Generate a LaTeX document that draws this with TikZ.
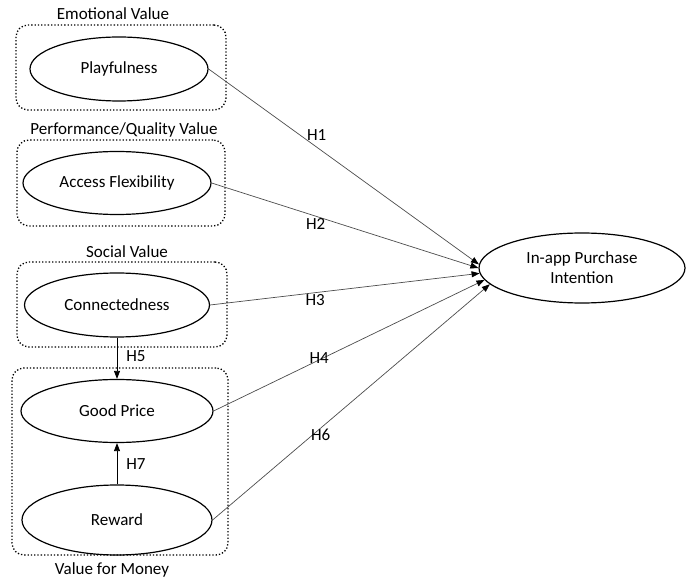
\documentclass[tikz,border=0pt]{standalone}
\usepackage{fontspec}
\setmainfont{Carlito}
\usetikzlibrary{arrows.meta,positioning,shapes.geometric}

\begin{document}
\begin{tikzpicture}[
  x=1pt, y=-1pt,
  construct/.style={draw, ellipse, line width=1.2pt, inner sep=0pt, font=\fontsize{17}{20}\selectfont},
  groupbox/.style={draw, dotted, line width=1.3pt, rounded corners=12pt, inner sep=0pt},
  grouplabel/.style={font=\fontsize{17}{20}\selectfont},
  hyp/.style={draw=gray!60!black, line width=0.7pt, -{Triangle[length=8pt,width=6pt,color=black]}},
  hypv/.style={draw=black, line width=0.8pt, -{Triangle[length=8pt,width=6pt]}},
  hlabel/.style={font=\fontsize{17}{20}\selectfont, inner sep=1pt},
]
\useasboundingbox (0,0) rectangle (686,585);

% value groups
\node[groupbox, minimum width=210pt, minimum height=85pt] (emobox) at (121,67.5) {};
\node[grouplabel] (emotitle) at (113,14) {Emotional Value};
\node[groupbox, minimum width=208pt, minimum height=86pt] (perfbox) at (121,183) {};
\node[grouplabel] (perftitle) at (124,130) {Performance/Quality Value};
\node[groupbox, minimum width=210pt, minimum height=85pt] (socbox) at (122,304.5) {};
\node[grouplabel] (soctitle) at (127,252) {Social Value};
\node[groupbox, minimum width=216pt, minimum height=187pt] (vfmbox) at (120,461.5) {};
\node[grouplabel] (vfmtitle) at (112,570) {Value for Money};

% constructs
\node[construct, minimum width=178pt, minimum height=64pt] (play) at (119,69) {Playfulness};
\node[construct, minimum width=188pt, minimum height=63pt] (access) at (117,183) {Access Flexibility};
\node[construct, minimum width=185pt, minimum height=64pt] (conn) at (117,305) {Connectedness};
\node[construct, minimum width=192pt, minimum height=63pt] (price) at (117,411) {Good Price};
\node[construct, minimum width=190pt, minimum height=70pt] (reward) at (117,520) {Reward};
\node[construct, minimum width=206pt, minimum height=70pt, align=center] (intent) at (582,268)
  {In-app Purchase\\Intention};

% hypotheses
\draw[hyp] (play.east) -- node[hlabel, pos=0.40, above=5pt] (h1) {H1} (intent.178);
\draw[hyp] (access.east) -- node[hlabel, pos=0.39, below=1pt] (h2) {H2} (intent.180);
\draw[hyp] (conn.east) -- node[hlabel, pos=0.39, below=0pt] (h3) {H3} (intent.183);
\draw[hyp] (price.east) -- node[hlabel, pos=0.39, below=-9pt] (h4) {H4} (intent.187);
\draw[hyp] (reward.east) -- node[hlabel, pos=0.39, below=0pt] (h6) {H6} (intent.190);
\draw[hypv] (conn.south) -- node[hlabel, right=8pt, pos=0.45] (h5) {H5} (price.north);
\draw[hypv] (reward.north) -- node[hlabel, right=8pt] (h7) {H7} (price.south);
\end{tikzpicture}
\end{document}
